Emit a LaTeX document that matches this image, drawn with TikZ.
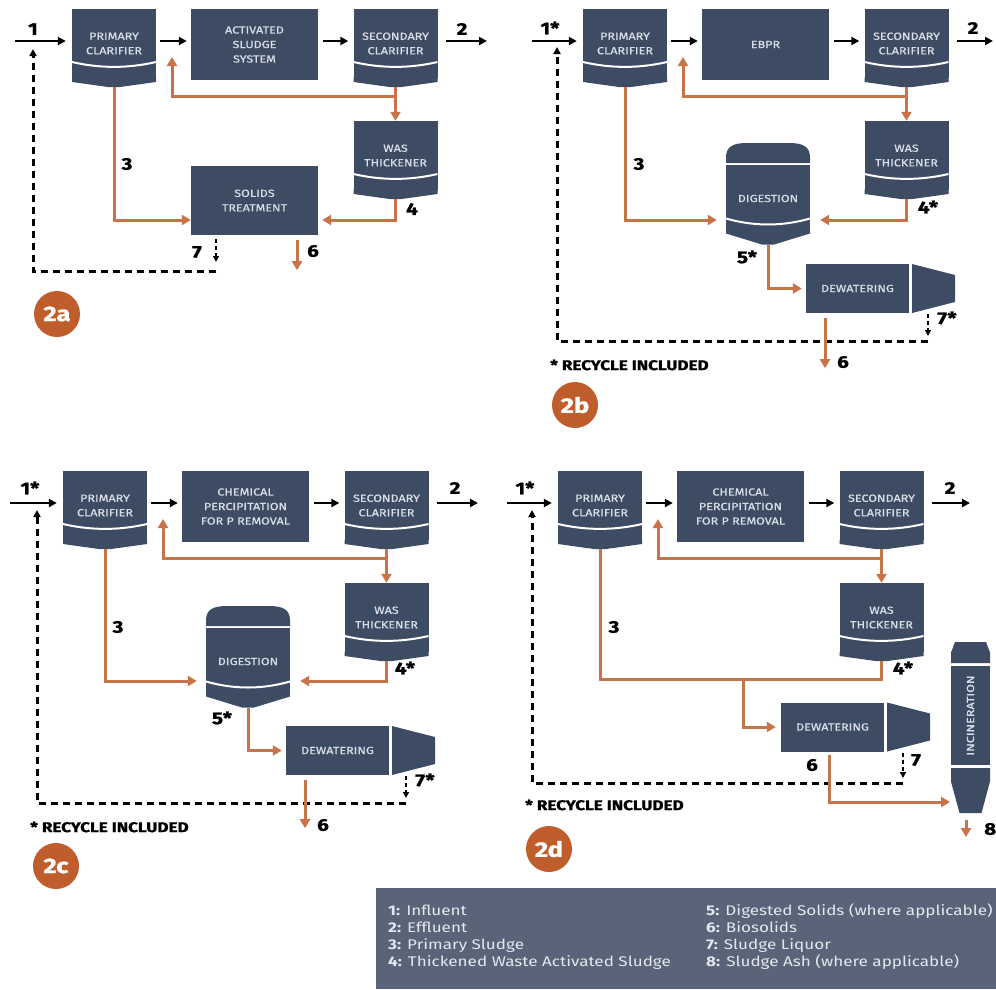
\documentclass[tikz,border=0pt]{standalone}
\usepackage{fontspec}
\setmainfont{Fira Sans}[FakeStretch=1.22]
\newfontfamily\unitfamily{Fira Sans}[FakeStretch=1.22, FakeBold=0.7]
\newfontfamily\heavyfamily{Fira Sans}[FakeStretch=1.22, BoldFeatures={FakeBold=1.2}]
\usetikzlibrary{arrows.meta,calc}
\definecolor{slate}{HTML}{3D4C63}
\definecolor{unittext}{HTML}{D8DEE7}
\definecolor{rust}{HTML}{C8744A}
\definecolor{badgec}{HTML}{BF5E2C}
\definecolor{legendfill}{HTML}{5A6478}
\definecolor{legendtext}{HTML}{E4E8EE}
\newcommand\unitfnt{\unitfamily\fontsize{10.3}{14.5}\selectfont}
\newcommand\numfnt{\heavyfamily\fontsize{17}{17}\selectfont\bfseries}
\newcommand\notefnt{\heavyfamily\fontsize{14}{14}\selectfont\bfseries}
\newcommand\badgefnt{\heavyfamily\fontsize{21}{21}\selectfont\bfseries}
\newcommand\legendfnt{\fontsize{14}{17}\selectfont}
\tikzset{
  unit/.style={fill=slate, text=unittext, font=\unitfnt, align=center, inner sep=0pt},
  flow/.style={-{Triangle[length=8pt,width=8pt]}, line width=2pt},
  sludge/.style={draw=rust, line width=3pt, -{Triangle[length=9pt,width=10pt]}},
  recycle/.style={line width=3pt, dash pattern=on 7pt off 5pt, -{Triangle[length=7pt,width=7pt]}},
  drip/.style={line width=2pt, dash pattern=on 4pt off 3pt, -{Triangle[length=6pt,width=6pt]}},
  num/.style={font=\numfnt, inner sep=0pt},
  note/.style={font=\notefnt, inner sep=0pt, anchor=west},
  badge/.style={circle, fill=badgec, text=white, font=\badgefnt, minimum size=46pt, inner sep=0pt},
  legendtxt/.style={anchor=base west, text=legendtext, font=\legendfnt, inner sep=0pt},
  pics/clarifier/.style={code={
    \node[unit, minimum width=84pt, minimum height=69pt] (-box) at (0,0) {#1};
    \fill[slate] (-42,34) -- (-42,38.5) -- (-6,43.5) -- (6,43.5) -- (42,38.5) -- (42,34) -- cycle;
    \draw[white, line width=2pt] (-42,18.5) .. controls (-14,25) and (14,25) .. (42,18.5);
    \coordinate (-bot) at (0,43.5);
  }},
  pics/digester/.style={code={
    \node[unit, minimum width=84pt, minimum height=67pt] (-box) at (0,0) {#1};
    \fill[slate] (-42,-35.5) -- (-42,-41) .. controls (-42,-52) and (-35,-55.5) .. (-21,-55.5) -- (21,-55.5) .. controls (35,-55.5) and (42,-52) .. (42,-41) -- (42,-35.5) -- cycle;
    \fill[slate] (-42,33) -- (-42,35) -- (-6,46) -- (6,46) -- (42,35) -- (42,33) -- cycle;
    \draw[white, line width=2pt] (-42,20) .. controls (-14,28) and (14,28) .. (42,20);
    \coordinate (-bot) at (0,46);
  }},
  pics/dewaterer/.style={code={
    \node[unit, minimum width=103pt, minimum height=49pt] (-box) at (0,0) {#1};
    \fill[slate] (54.5,-24.5) -- (97.5,-13.5) -- (97.5,13.5) -- (54.5,24.5) -- cycle;
  }},
  pics/incinerator/.style={code={
    \node[unit, minimum width=39pt, minimum height=99pt] (-box) at (0,0) {\rotatebox{90}{#1}};
    \fill[slate] (-15.5,-73.5) -- (15.5,-73.5) -- (19.5,-63) -- (19.5,-52.5) -- (-19.5,-52.5) -- (-19.5,-63) -- cycle;
    \fill[slate] (-19.5,52.5) -- (19.5,52.5) -- (19.5,66) -- (11,97.5) -- (-11,97.5) -- (-19.5,66) -- cycle;
    \coordinate (-bot) at (0,97.5);
    \coordinate (-feed) at (-20.5,86.5);
  }}
}
\begin{document}
\begin{tikzpicture}[x=1pt,y=-1pt]
\useasboundingbox (0,0) rectangle (996,989);
% ---- panel 2a: activated sludge ----
\begin{scope}
\coordinate (ina) at (15,41);
\coordinate (outa) at (487,41);
\pic (prima) at (114,43.5) {clarifier={PRIMARY\\CLARIFIER}};
\node[unit, minimum width=127pt, minimum height=71pt] (asa) at (254.5,44.5) {ACTIVATED\\SLUDGE\\SYSTEM};
\pic (seca) at (395.5,43.5) {clarifier={SECONDARY\\CLARIFIER}};
\pic (wasa) at (395.5,155.5) {clarifier={WAS\\THICKENER}};
\node[unit, minimum width=127pt, minimum height=69pt] (sola) at (254.5,200.5) {SOLIDS\\TREATMENT};
\draw[flow, shorten >=6pt] (ina) -- (ina -| prima-box.west);
\draw[flow, shorten <=4pt, shorten >=4pt] (prima-box.east |- ina) -- (asa.west |- ina);
\draw[flow, shorten <=5pt, shorten >=5pt] (asa.east |- ina) -- (seca-box.west |- ina);
\draw[flow, shorten <=8pt] (seca-box.east |- ina) -- (outa);
\coordinate (rasa) at (172,57);
\draw[sludge] (seca-bot) -- ++(0,9) -| (rasa);
\draw[sludge] (seca-bot) -- (wasa-box.north);
\draw[sludge] (prima-bot) |- ([yshift=-19.5pt]sola.west);
\draw[sludge, shorten >=4pt] (wasa-bot) |- ([yshift=-19.5pt]sola.east);
\coordinate (rca) at (216,271);
\coordinate (rina) at (33,49);
\draw[drip, shorten <=4pt, shorten >=9pt] (sola.south -| rca) -- (rca);
\draw[recycle] (rca) -| (rina);
\draw[sludge] ([xshift=42.5pt,yshift=-5pt]sola.south) -- ++(0,30);
\node[num] (n1a) at (33,29) {1};
\node[num] (n2a) at (462,29) {2};
\node[num] (n3a) at (127,164) {3};
\node[num] (n4a) at (412,209) {4};
\node[num] (n6a) at (313,251) {6};
\node[num] (n7a) at (197,252) {7};
\node[badge] (bdga) at (57,314) {2a};
\end{scope}
% ---- panel 2b: EBPR with digestion ----
\begin{scope}[shift={(511,0)}]
\coordinate (inb) at (21,41);
\coordinate (outb) at (482,41);
\pic (primb) at (114,43.5) {clarifier={PRIMARY\\CLARIFIER}};
\node[unit, minimum width=127pt, minimum height=71pt] (ebprb) at (254.5,44.5) {EBPR};
\pic (secb) at (395.5,43.5) {clarifier={SECONDARY\\CLARIFIER}};
\pic (wasb) at (395.5,155.5) {clarifier={WAS\\THICKENER}};
\pic (digb) at (257,198.5) {digester={DIGESTION}};
\pic (dewb) at (346.5,288.5) {dewaterer={DEWATERING}};
\draw[flow, shorten >=6pt] (inb) -- (inb -| primb-box.west);
\draw[flow, shorten <=4pt, shorten >=4pt] (primb-box.east |- inb) -- (ebprb.west |- inb);
\draw[flow, shorten <=5pt, shorten >=5pt] (ebprb.east |- inb) -- (secb-box.west |- inb);
\draw[flow, shorten <=8pt] (secb-box.east |- inb) -- (outb);
\coordinate (rasb) at (172,57);
\draw[sludge] (secb-bot) -- ++(0,9) -| (rasb);
\draw[sludge] (secb-bot) -- (wasb-box.north);
\draw[sludge, shorten >=9pt] (primb-bot) |- ([yshift=-21.5pt]digb-box.west);
\draw[sludge, shorten >=10pt] (wasb-bot) |- ([yshift=-21.5pt]digb-box.east);
\draw[sludge, shorten >=4pt] (digb-bot) |- (dewb-box.west);
\coordinate (rcb) at (417,341);
\coordinate (rinb) at (46,47);
\draw[drip, shorten <=1pt, shorten >=5pt] (dewb-box.south -| rcb) -- (rcb);
\draw[recycle] (rcb) -| (rinb);
\draw[sludge] ([xshift=-32.5pt,yshift=-5pt]dewb-box.south) -- ++(0,50);
\node[num] (n1b) at (39,28) {1*};
\node[num] (n2b) at (462,28) {2};
\node[num] (n3b) at (128,164) {3};
\node[num] (n4b) at (417,207) {4*};
\node[num] (n5b) at (236,257) {5*};
\node[num] (n6b) at (332,362) {6};
\node[num] (n7b) at (436,318) {7*};
\node[note] (recb) at (39,365) {* RECYCLE INCLUDED};
\node[badge] (bdgb) at (64,405) {2b};
\end{scope}
% ---- panel 2c: chemical P removal with digestion ----
\begin{scope}[shift={(-9,462)}]
\coordinate (inc) at (19,41);
\coordinate (outc) at (487,41);
\pic (primc) at (114,43.5) {clarifier={PRIMARY\\CLARIFIER}};
\node[unit, minimum width=127pt, minimum height=71pt] (chemc) at (254.5,44.5) {CHEMICAL\\PERCIPITATION\\FOR P REMOVAL};
\pic (secc) at (395.5,43.5) {clarifier={SECONDARY\\CLARIFIER}};
\pic (wasc) at (395.5,155.5) {clarifier={WAS\\THICKENER}};
\pic (digc) at (257,199.5) {digester={DIGESTION}};
\pic (dewc) at (346.5,288.5) {dewaterer={DEWATERING}};
\draw[flow, shorten >=6pt] (inc) -- (inc -| primc-box.west);
\draw[flow, shorten <=4pt, shorten >=4pt] (primc-box.east |- inc) -- (chemc.west |- inc);
\draw[flow, shorten <=5pt, shorten >=5pt] (chemc.east |- inc) -- (secc-box.west |- inc);
\draw[flow, shorten <=8pt] (secc-box.east |- inc) -- (outc);
\coordinate (rasc) at (172,57);
\draw[sludge] (secc-bot) -- ++(0,9) -| (rasc);
\draw[sludge] (secc-bot) -- (wasc-box.north);
\draw[sludge, shorten >=9pt] (primc-bot) |- ([yshift=-19.5pt]digc-box.west);
\draw[sludge, shorten >=10pt] (wasc-bot) |- ([yshift=-19.5pt]digc-box.east);
\draw[sludge, shorten >=4pt] (digc-bot) |- (dewc-box.west);
\coordinate (rcc) at (415,341);
\coordinate (rinc) at (46,48);
\draw[drip, shorten <=1pt, shorten >=5pt] (dewc-box.south -| rcc) -- (rcc);
\draw[recycle] (rcc) -| (rinc);
\draw[sludge] ([xshift=-32.5pt,yshift=-5pt]dewc-box.south) -- ++(0,48);
\node[num] (n1c) at (39,26) {1*};
\node[num] (n2c) at (464,26) {2};
\node[num] (n3c) at (127,165) {3};
\node[num] (n4c) at (414,206) {4*};
\node[num] (n5c) at (231,256) {5*};
\node[num] (n6c) at (332,363) {6};
\node[num] (n7c) at (434,318) {7*};
\node[note] (recc) at (39,365) {* RECYCLE INCLUDED};
\node[badge] (bdgc) at (65,404) {2c};
\end{scope}
% ---- panel 2d: chemical P removal with incineration ----
\begin{scope}[shift={(486,462)}]
\coordinate (ind) at (21,41);
\coordinate (outd) at (484,41);
\pic (primd) at (114,43.5) {clarifier={PRIMARY\\CLARIFIER}};
\node[unit, minimum width=127pt, minimum height=71pt] (chemd) at (254.5,44.5) {CHEMICAL\\PERCIPITATION\\FOR P REMOVAL};
\pic (secd) at (395.5,43.5) {clarifier={SECONDARY\\CLARIFIER}};
\pic (wasd) at (395.5,155.5) {clarifier={WAS\\THICKENER}};
\pic (dewd) at (346.5,265) {dewaterer={DEWATERING}};
\pic (incd) at (484.5,253.5) {incinerator={INCINERATION}};
\draw[flow, shorten >=6pt] (ind) -- (ind -| primd-box.west);
\draw[flow, shorten <=4pt, shorten >=4pt] (primd-box.east |- ind) -- (chemd.west |- ind);
\draw[flow, shorten <=5pt, shorten >=5pt] (chemd.east |- ind) -- (secd-box.west |- ind);
\draw[flow, shorten <=8pt] (secd-box.east |- ind) -- (outd);
\coordinate (rasd) at (172,57);
\draw[sludge] (secd-bot) -- ++(0,9) -| (rasd);
\draw[sludge] (secd-bot) -- (wasd-box.north);
\draw[sludge, -] (primd-bot) -- ++(0,130) -| (wasd-bot);
\coordinate (jd) at (257,217);
\draw[sludge, shorten >=5pt] (jd) |- (dewd-box.west);
\coordinate (rcd) at (417,321);
\coordinate (rind) at (46,48);
\draw[drip, shorten <=1pt, shorten >=5pt] (dewd-box.south -| rcd) -- (rcd);
\draw[recycle] (rcd) -| (rind);
\draw[sludge] ([xshift=-3.5pt,yshift=-3pt]dewd-box.south) |- (incd-feed);
\draw[sludge] ([xshift=-4.5pt,yshift=-7pt]incd-bot) -- ++(0,17);
\node[num] (n1d) at (39,26) {1*};
\node[num] (n2d) at (464,26) {2};
\node[num] (n3d) at (128,165) {3};
\node[num] (n4d) at (417,206) {4*};
\node[num] (n6d) at (326,303) {6};
\node[num] (n7d) at (430,298) {7};
\node[num, anchor=west] (n8d) at (498,367) {8};
\node[note] (recd) at (39,343) {* RECYCLE INCLUDED};
\node[badge] (bdgd) at (63,387) {2d};
\end{scope}
% ---- legend ----
\node[fill=legendfill, minimum width=620pt, minimum height=101pt, inner sep=0pt, anchor=north west] (legend) at (376,888) {};
\foreach \k/\txt [count=\i] in {1/Influent,2/Effluent,3/Primary Sludge,4/Thickened Waste Activated Sludge}
  \node[legendtxt] (lg\k) at (388,898+17*\i) {\textbf{\k:} \txt};
\foreach \k/\txt [count=\i] in {5/Digested Solids (where applicable),6/Biosolids,7/Sludge Liquor,8/Sludge Ash (where applicable)}
  \node[legendtxt] (lg\k) at (706,898+17*\i) {\textbf{\k:} \txt};
\end{tikzpicture}
\end{document}
